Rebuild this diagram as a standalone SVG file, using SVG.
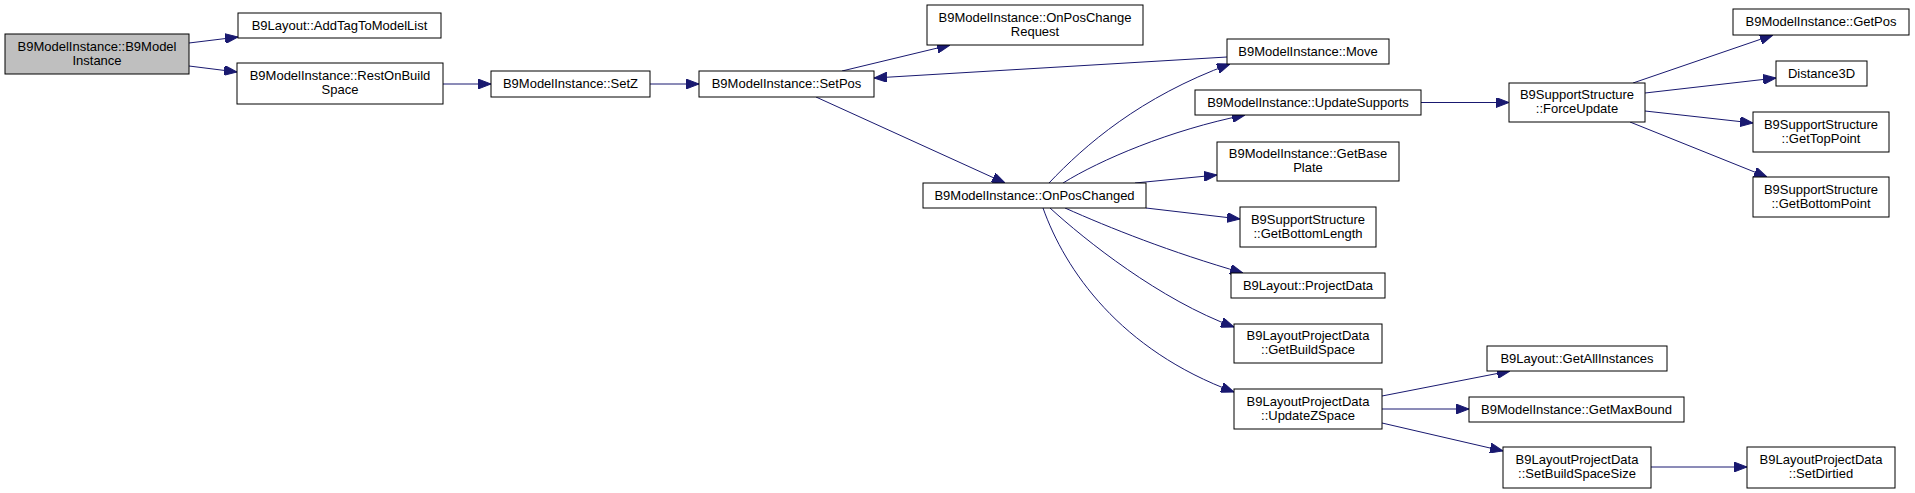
<svg xmlns="http://www.w3.org/2000/svg" width="1915" height="493" viewBox="0 0 1915 493">
<style>
.n rect{fill:#ffffff;stroke:#000000;stroke-width:1}
.root rect{fill:#bfbfbf}
text{font-family:"Liberation Sans",Arial,sans-serif;font-size:13px;fill:#000000;text-anchor:middle}
.e path{fill:none;stroke:#191970;stroke-width:1;marker-end:url(#ah)}
</style>
<defs>
<marker id="ah" markerUnits="userSpaceOnUse" markerWidth="13" markerHeight="10" viewBox="0 0 13 10" refX="13" refY="5" orient="auto">
<path d="M0,0 L13,5 L0,10 z" fill="#191970" stroke="#191970" stroke-width="1"/>
</marker>
</defs>
<rect width="1915" height="493" fill="#ffffff"/>
<g id="edges" class="e">
<path d="M189,43 L238,37"/>
<path d="M189,66 L237,72"/>
<path d="M443,84 L491,84"/>
<path d="M650,84 L699,84"/>
<path d="M842,71 L950,45"/>
<path d="M1227,57 L874,78"/>
<path d="M816,97 L1005,183"/>
<path d="M1049,183 C1085,145 1140,97 1230,64"/>
<path d="M1063,183 C1100,160 1170,130 1245,115"/>
<path d="M1135,183 L1217,175"/>
<path d="M1146,208 L1240,219"/>
<path d="M1065,208 C1110,228 1170,252 1243,273"/>
<path d="M1050,208 C1085,240 1160,300 1234,327"/>
<path d="M1043,208 C1065,270 1120,350 1234,392"/>
<path d="M1421,102.5 L1509,102.5"/>
<path d="M1633,83 L1773,35"/>
<path d="M1645,93 L1776,78"/>
<path d="M1645,111 L1753,123"/>
<path d="M1630,122 L1767,177"/>
<path d="M1382,396 L1510,371"/>
<path d="M1382,409 L1469,409"/>
<path d="M1382,423 L1503,451"/>
<path d="M1651,467 L1747,467"/>
</g>
<g id="n_root" class="n root"><rect x="5" y="34" width="184" height="40"/><text x="97" y="50.5">B9ModelInstance::B9Model<tspan x="97" dy="14">Instance</tspan></text></g>
<g id="n_addtag" class="n"><rect x="238" y="13" width="203" height="25"/><text x="339.5" y="29.5">B9Layout::AddTagToModelList</text></g>
<g id="n_restonbuild" class="n"><rect x="237" y="63" width="206" height="41"/><text x="340" y="80">B9ModelInstance::RestOnBuild<tspan x="340" dy="14">Space</tspan></text></g>
<g id="n_setz" class="n"><rect x="491" y="71" width="159" height="26"/><text x="570.5" y="88">B9ModelInstance::SetZ</text></g>
<g id="n_setpos" class="n"><rect x="699" y="71" width="175" height="26"/><text x="786.5" y="88">B9ModelInstance::SetPos</text></g>
<g id="n_onposchangerequest" class="n"><rect x="927" y="5" width="216" height="40"/><text x="1035" y="21.5">B9ModelInstance::OnPosChange<tspan x="1035" dy="14">Request</tspan></text></g>
<g id="n_onposchanged" class="n"><rect x="923" y="183" width="223" height="25"/><text x="1034.5" y="199.5">B9ModelInstance::OnPosChanged</text></g>
<g id="n_move" class="n"><rect x="1227" y="39" width="162" height="25"/><text x="1308" y="55.5">B9ModelInstance::Move</text></g>
<g id="n_updatesupports" class="n"><rect x="1195" y="90" width="226" height="25"/><text x="1308" y="106.5">B9ModelInstance::UpdateSupports</text></g>
<g id="n_getbaseplate" class="n"><rect x="1217" y="142" width="182" height="39"/><text x="1308" y="158">B9ModelInstance::GetBase<tspan x="1308" dy="14">Plate</tspan></text></g>
<g id="n_getbottomlength" class="n"><rect x="1240" y="207" width="136" height="40"/><text x="1308" y="223.5">B9SupportStructure<tspan x="1308" dy="14">::GetBottomLength</tspan></text></g>
<g id="n_projectdata" class="n"><rect x="1231" y="273" width="154" height="25"/><text x="1308" y="289.5">B9Layout::ProjectData</text></g>
<g id="n_getbuildspace" class="n"><rect x="1234" y="324" width="148" height="39"/><text x="1308" y="340">B9LayoutProjectData<tspan x="1308" dy="14">::GetBuildSpace</tspan></text></g>
<g id="n_updatezspace" class="n"><rect x="1234" y="389" width="148" height="40"/><text x="1308" y="405.5">B9LayoutProjectData<tspan x="1308" dy="14">::UpdateZSpace</tspan></text></g>
<g id="n_forceupdate" class="n"><rect x="1509" y="83" width="136" height="39"/><text x="1577" y="99">B9SupportStructure<tspan x="1577" dy="14">::ForceUpdate</tspan></text></g>
<g id="n_getallinstances" class="n"><rect x="1487" y="346" width="180" height="25"/><text x="1577" y="362.5">B9Layout::GetAllInstances</text></g>
<g id="n_getmaxbound" class="n"><rect x="1469" y="397" width="215" height="25"/><text x="1576.5" y="413.5">B9ModelInstance::GetMaxBound</text></g>
<g id="n_setbuildspacesize" class="n"><rect x="1503" y="447" width="148" height="41"/><text x="1577" y="464">B9LayoutProjectData<tspan x="1577" dy="14">::SetBuildSpaceSize</tspan></text></g>
<g id="n_getpos" class="n"><rect x="1733" y="9" width="176" height="26"/><text x="1821" y="26">B9ModelInstance::GetPos</text></g>
<g id="n_distance3d" class="n"><rect x="1776" y="61" width="91" height="25"/><text x="1821.5" y="77.5">Distance3D</text></g>
<g id="n_gettoppoint" class="n"><rect x="1753" y="112" width="136" height="40"/><text x="1821" y="128.5">B9SupportStructure<tspan x="1821" dy="14">::GetTopPoint</tspan></text></g>
<g id="n_getbottompoint" class="n"><rect x="1753" y="177" width="136" height="40"/><text x="1821" y="193.5">B9SupportStructure<tspan x="1821" dy="14">::GetBottomPoint</tspan></text></g>
<g id="n_setdirtied" class="n"><rect x="1747" y="447" width="148" height="41"/><text x="1821" y="464">B9LayoutProjectData<tspan x="1821" dy="14">::SetDirtied</tspan></text></g>
</svg>
